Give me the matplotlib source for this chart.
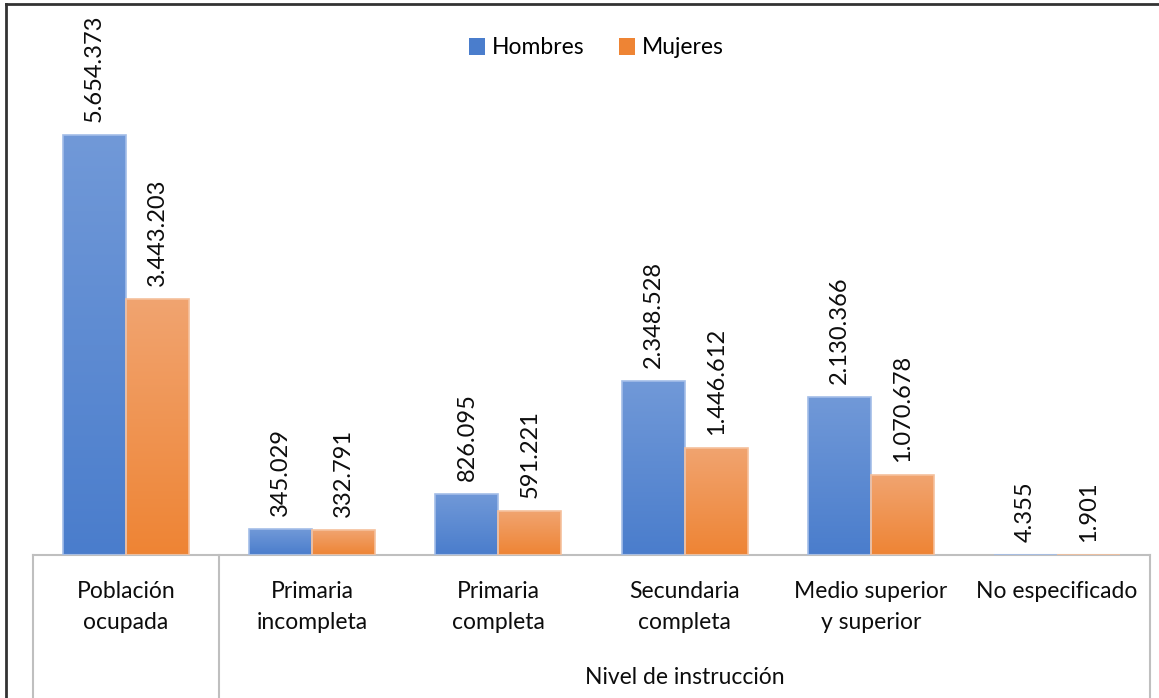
import numpy as np
import matplotlib
matplotlib.use("Agg")
import matplotlib.pyplot as plt
from matplotlib.transforms import blended_transform_factory
from matplotlib.lines import Line2D
from matplotlib.patches import Patch
from matplotlib.colors import LinearSegmentedColormap

plt.rcParams["font.family"] = ["Lato", "DejaVu Sans"]

categories = ["Población\nocupada", "Primaria\nincompleta", "Primaria\ncompleta",
              "Secundaria\ncompleta", "Medio superior\ny superior", "No especificado"]
hombres = [5654373, 345029, 826095, 2348528, 2130366, 4355]
mujeres = [3443203, 332791, 591221, 1446612, 1070678, 1901]
series_names = ["Hombres", "Mujeres"]
group_label = "Nivel de instrucción"

W, H = 1159, 698
fig = plt.figure(figsize=(W / 100, H / 100), dpi=100)

ax_left, ax_right = 33, 1150
ax_base, ax_top = 555, 4
ax = fig.add_axes([ax_left / W, (H - ax_base) / H, (ax_right - ax_left) / W, (ax_base - ax_top) / H])

px_per_unit = 420 / 5654373
ymax = (ax_base - ax_top) / px_per_unit

x = np.arange(len(categories))
bw = 0.338
blue_top, blue_bot = "#7199d8", "#4a7dcc"
orange_top, orange_bot = "#f1a470", "#ee8434"


def gradient_bars(xs, vals, top, bot, edge):
    bars = ax.bar(xs, vals, width=bw, color=bot, linewidth=0, zorder=2)
    cmap = LinearSegmentedColormap.from_list("g", [bot, top])
    grad = np.linspace(0, 1, 256).reshape(-1, 1)
    for b in bars:
        x0, y0 = b.get_x(), b.get_y()
        w, h = b.get_width(), b.get_height()
        im = ax.imshow(grad, cmap=cmap, origin="lower", aspect="auto",
                       extent=(x0, x0 + w, y0, y0 + h), zorder=2.5)
        im.set_clip_path(b)
    # thin light outline on top of the fill
    ax.bar(xs, vals, width=bw, facecolor="none", edgecolor=edge, linewidth=1.2, zorder=3)
    return bars


gradient_bars(x - bw / 2, hombres, blue_top, blue_bot, "#a3bde8")
gradient_bars(x + bw / 2, mujeres, orange_top, orange_bot, "#f5c09c")
ax.set_xlim(-0.5, len(categories) - 0.5)
ax.set_ylim(0, ymax)


def fmt(v):
    return f"{v:,}".replace(",", ".")


for xs, vals in ((x - bw / 2, hombres), (x + bw / 2, mujeres)):
    for xi, v in zip(xs, vals):
        ax.annotate(fmt(v), (xi, v), xytext=(0, 13), textcoords="offset pixels",
                    rotation=90, ha="center", va="bottom", fontsize=17, color="#0d0d0d")

for s in ("top", "left", "right"):
    ax.spines[s].set_visible(False)
ax.spines["bottom"].set_color("#bfbfbf")
ax.spines["bottom"].set_linewidth(1.5)
ax.set_xticks([])
ax.set_yticks([])

trans = blended_transform_factory(ax.transData, ax.transAxes)
ax_h = ax_base - ax_top
bottom_y = -(H - ax_base) / ax_h
for xs in (-0.5, 0.5, len(categories) - 0.5):
    ax.plot([xs, xs], [0, bottom_y], transform=trans, color="#bfbfbf", lw=1.5, clip_on=False)

for xi, lab in zip(x, categories):
    ax.text(xi, -(581 - ax_base) / ax_h, lab, transform=trans, ha="center", va="top",
            fontsize=16.5, color="#0d0d0d", linespacing=1.6, multialignment="center")

ax.text((0.5 + len(categories) - 0.5) / 2, -(678 - ax_base) / ax_h, group_label,
        transform=trans, ha="center", va="center", fontsize=16.5, color="#0d0d0d")

handles = [Patch(facecolor=blue_bot, edgecolor="none"), Patch(facecolor=orange_bot, edgecolor="none")]
fig.legend(handles, series_names, loc="center", bbox_to_anchor=(596 / W, 1 - 48 / H),
           ncol=2, frameon=False, fontsize=16.5, handlelength=0.7, handleheight=0.7,
           handletextpad=0.3, columnspacing=1.5)

# outer frame (left and top edges)
fig.add_artist(Line2D([6 / W, 6 / W], [0, 1 - 4 / H], color="#333333", lw=2, transform=fig.transFigure))
fig.add_artist(Line2D([6 / W, 1], [1 - 4 / H, 1 - 4 / H], color="#333333", lw=2, transform=fig.transFigure))

fig.savefig("out.png", dpi=100, facecolor="white")
